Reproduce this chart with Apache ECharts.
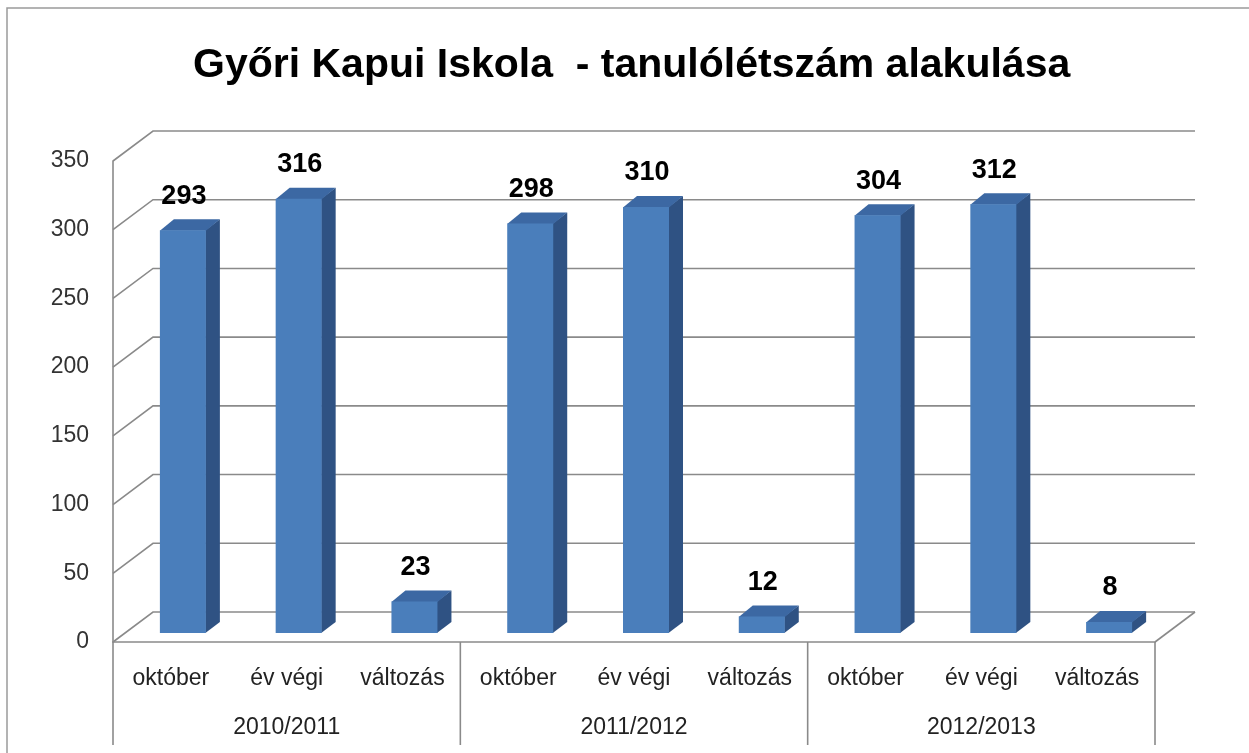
<!DOCTYPE html>
<html>
<head>
<meta charset="utf-8">
<title>Győri Kapui Iskola - tanulólétszám alakulása</title>
<script src="https://cdn.jsdelivr.net/npm/echarts@6/dist/echarts.min.js"></script>
<style>
    html, body { margin: 0; padding: 0; background: #fff; }
    #chart { width: 1249px; height: 753px; }
</style>
</head>
<body>
<div id="chart"></div>
<script>
// adatok
const groups = ['2010/2011', '2011/2012', '2012/2013'];
const phases = ['október', 'év végi', 'változás'];
const oktober = [293, 298, 304];
const evVegi = [316, 310, 312];
const valtozas = [23, 12, 8];
const yTicks = [0, 50, 100, 150, 200, 250, 300, 350];

// 9 oszlop: csoportonként október, év végi, változás
const categories = [];
const barData = [];
groups.forEach((g, i) => {
    [oktober[i], evVegi[i], valtozas[i]].forEach((v, j) => {
        categories.push(phases[j]);
        barData.push([categories.length - 1, v]);
    });
});

const FONT = "'Liberation Sans', Arial, sans-serif";
const GRID_COLOR = '#8a8a8a';
// 3D mélység (fal) és oszlop mélység
const WALL_DX = 40, WALL_DY = -30;
const BAR_DX = 14, BAR_DY = -11;

const chart = echarts.init(document.getElementById('chart'));

const renderWalls = (params, api) => {
    const v = api.value(1);
    const cs = params.coordSys;
    const xL = cs.x;
    const xR = cs.x + cs.width;
    const y = api.coord([0, v])[1];
    const lineStyle = { stroke: GRID_COLOR, lineWidth: 1.6, fill: 'none' };
    const children = [
        { type: 'polyline', shape: { points: [[xL, y], [xL + WALL_DX, y + WALL_DY], [xR + WALL_DX, y + WALL_DY]] }, style: lineStyle }
    ];
    if (v === 0) {
        // padló jobb éle
        children.push({ type: 'line', shape: { x1: xR, y1: y, x2: xR + WALL_DX, y2: y + WALL_DY }, style: lineStyle });
        // csoport elválasztók a kategória tengely alatt
        const bandW = api.size([1, 0])[0];
        for (let k = 0; k <= groups.length; k++) {
            const x = xL + k * phases.length * bandW;
            children.push({ type: 'line', shape: { x1: x, y1: y, x2: x, y2: y + 103 }, style: lineStyle });
        }
    }
    return { type: 'group', children };
};

const renderBar = (params, api) => {
    const p = api.coord([api.value(0), api.value(1)]);
    const base = api.coord([api.value(0), 0]);
    const fw = 46;
    const fx = p[0] + 12 - fw / 2;
    const ftop = p[1] - 9;
    const fbot = base[1] - 9;
    return {
        type: 'group',
        children: [
            {
                type: 'polygon',
                shape: { points: [[fx + fw - 0.5, ftop], [fx + fw + BAR_DX, ftop + BAR_DY], [fx + fw + BAR_DX, fbot + BAR_DY], [fx + fw - 0.5, fbot]] },
                style: { fill: '#2f5283' }
            },
            {
                type: 'polygon',
                shape: { points: [[fx, ftop + 0.5], [fx + BAR_DX, ftop + BAR_DY], [fx + fw + BAR_DX, ftop + BAR_DY], [fx + fw, ftop + 0.5]] },
                style: { fill: '#3c68a3' }
            },
            {
                type: 'rect',
                shape: { x: fx, y: ftop, width: fw, height: fbot - ftop },
                style: { fill: '#4a7ebb' }
            },
            {
                type: 'text',
                x: fx + fw / 2 + 1,
                y: ftop - 34,
                style: {
                    text: String(api.value(1)),
                    fontFamily: FONT,
                    fontSize: 27,
                    fontWeight: 'bold',
                    fill: '#000',
                    align: 'center',
                    verticalAlign: 'middle'
                }
            }
        ]
    };
};

const option = {
    animation: false,
    backgroundColor: '#fff',
    title: {
        text: 'Győri Kapui Iskola  - tanulólétszám alakulása',
        left: 188,
        top: 40,
        textStyle: {
            fontFamily: FONT,
            fontSize: 41,
            fontWeight: 'bold',
            color: '#000'
        }
    },
    graphic: [
        {
            type: 'rect',
            shape: { x: 7, y: 8, width: 1260, height: 760 },
            style: { fill: 'none', stroke: '#9a9a9a', lineWidth: 1.5 },
            silent: true
        }
    ],
    grid: {
        left: 113,
        right: 94,
        top: 161,
        bottom: 111
    },
    xAxis: [
        {
            type: 'category',
            data: categories,
            position: 'bottom',
            axisLine: { show: true, lineStyle: { color: GRID_COLOR, width: 1.6 } },
            axisTick: { show: false },
            axisLabel: {
                margin: 25,
                fontFamily: FONT,
                fontSize: 23,
                color: '#222',
                interval: 0
            }
        },
        {
            type: 'category',
            data: groups,
            position: 'bottom',
            axisLine: { show: false },
            axisTick: { show: false },
            axisLabel: {
                margin: 74,
                fontFamily: FONT,
                fontSize: 23,
                color: '#222'
            }
        }
    ],
    yAxis: {
        type: 'value',
        min: 0,
        max: 350,
        interval: 50,
        axisLine: { show: true, lineStyle: { color: GRID_COLOR, width: 1.6 } },
        axisTick: { show: false },
        splitLine: { show: false },
        axisLabel: {
            margin: 24,
            fontFamily: FONT,
            fontSize: 23,
            color: '#333'
        }
    },
    series: [
        {
            name: 'fal',
            type: 'custom',
            z: 1,
            silent: true,
            renderItem: renderWalls,
            data: yTicks.map(v => [0, v])
        },
        {
            name: 'tanulók',
            type: 'custom',
            z: 2,
            renderItem: renderBar,
            data: barData
        }
    ]
};

chart.setOption(option);
window.addEventListener('resize', () => chart.resize());
</script>
</body>
</html>
